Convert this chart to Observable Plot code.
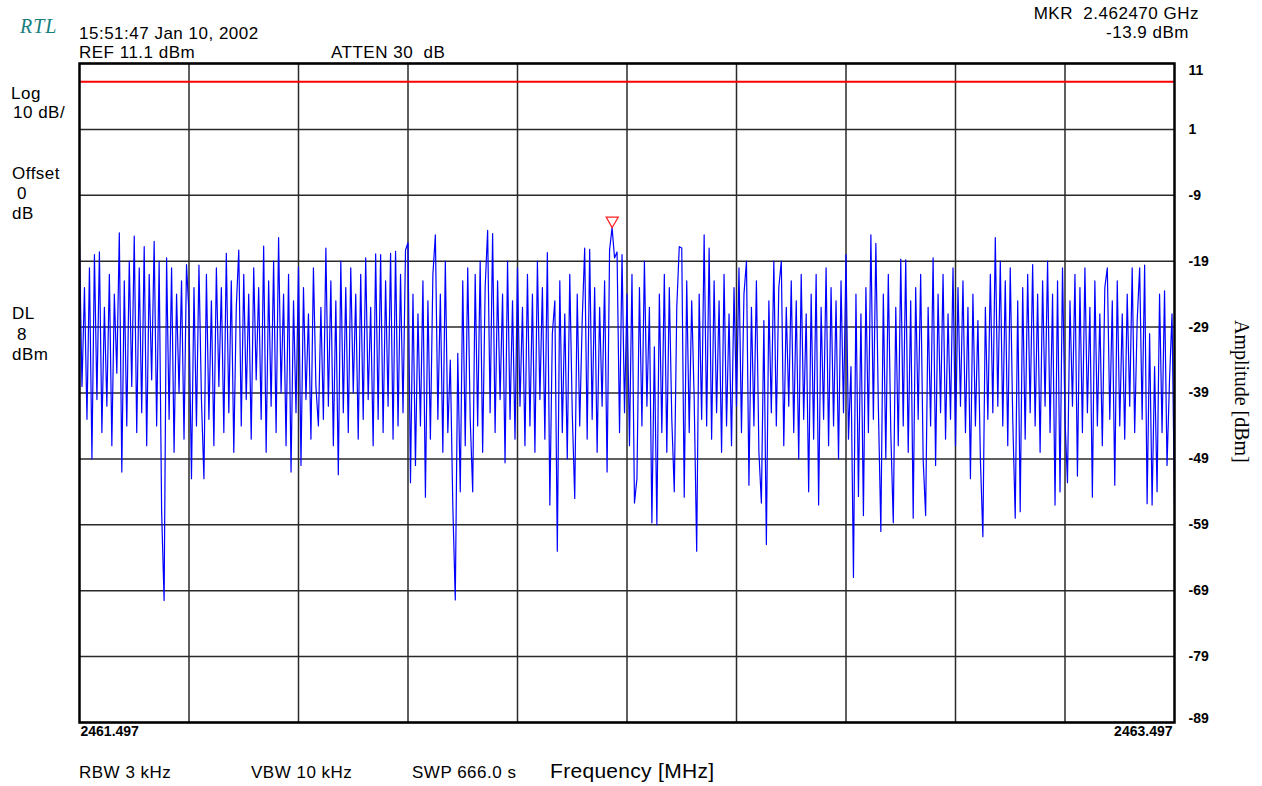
<!DOCTYPE html>
<html>
<head>
<meta charset="utf-8">
<script src="https://cdn.jsdelivr.net/npm/d3@7"></script>
<script src="https://cdn.jsdelivr.net/npm/@observablehq/plot@0.6"></script>
<style>
  html, body { margin: 0; padding: 0; background: #fff; }
  #wrap { position: relative; width: 1262px; height: 786px; overflow: hidden; background: #fff; }
  #wrap svg { position: absolute; left: 0; top: 0; }
  .t { position: absolute; font-family: "Liberation Sans", Arial, sans-serif; font-size: 17px; line-height: 1; color: #000; white-space: pre; letter-spacing: 0.5px; }
</style>
</head>
<body>
<div id="wrap"></div>
<script>
// ---- data ----
const freqStart = 2461.497;   // MHz
const freqStop = 2463.497;    // MHz
const refLevel = 11;          // top of screen, dBm
const bottomLevel = -89;      // dBm
const displayLine = 8;        // DL, dBm
const markerFreq = 2462.470;  // MHz
const markerLevel = -13.9;    // dBm

const yTicks = [11, 1, -9, -19, -29, -39, -49, -59, -69, -79, -89];
const xGrid = [2461.697, 2461.897, 2462.097, 2462.297, 2462.497, 2462.697, 2462.897, 2463.097, 2463.297];
const xLabels = ["2461.497", "2463.497"];

// trace amplitudes (dBm), sweep points
const amplitude = [
  -16.5, -38, -23, -43, -20, -49, -18, -40, -17.6, -45,
  -26, -41, -21, -47, -24, -36, -14.7, -51, -22, -44,
  -19, -38, -15.2, -45, -20, -42, -16.8, -47, -21, -37,
  -16, -44, -19, -57, -70.5, -18.5, -43, -20, -48, -24,
  -39, -22, -46, -19.5, -27, -52, -23, -44, -19.6, -40,
  -52, -21, -43, -25, -47, -20, -38, -23, -45, -17.8,
  -42, -22, -48, -26, -17.3, -44, -21, -40, -24, -46,
  -20, -37, -23, -43, -16.7, -48, -22, -41, -19, -45,
  -15.4, -39, -24, -47, -21, -51, -25, -42, -19.9, -50,
  -23, -40, -27, -46, -20, -38, -44, -26, -43, -17,
  -41, -22, -47, -25, -51.4, -19, -42, -23, -45, -20,
  -39, -24, -46, -21, -43, -18.5, -40, -26, -47, -17.9,
  -43, -18, -45, -22, -41, -17.8, -46, -17.5, -44, -21,
  -42, -17.3, -16.2, -52.6, -24, -50, -27, -44, -22, -54.8,
  -25, -46, -21, -15, -43, -24, -48, -19, -45, -34,
  -56, -70.4, -33, -54, -22, -47, -20, -43, -54, -21,
  -44, -19, -48, -23, -14.3, -42, -14.8, -45, -22, -40,
  -24, -49.6, -19, -43, -25, -46, -20, -41, -26, -47,
  -21, -44, -24, -48, -19, -40, -23, -46, -17.7, -56,
  -30, -25, -63, -22, -45, -27, -49, -21, -42, -55,
  -24, -44, -28, -17, -46, -17.2, -43, -23, -48, -26,
  -41, -22, -51, -17.3, -13.9, -18.5, -17.6, -45, -18, -42,
  -24, -47, -21, -55.7, -52, -23, -44, -19, -41, -26,
  -58.7, -32, -59, -24, -45, -21, -48, -23, -43, -54,
  -26, -16.8, -17, -54.8, -22, -45, -25, -40, -63, -24,
  -43, -15, -44, -17, -46, -22, -42, -25, -48, -21,
  -44, -27, -47, -23, -41, -20, -45, -24, -19, -53,
  -26, -44, -22, -48, -55.7, -28, -62, -25, -42, -19,
  -44, -23, -19, -47, -26, -41, -22, -45, -25, -49,
  -21, -43, -27, -54, -24, -46, -21, -56, -26, -43,
  -20, -47, -23, -44, -25, -49, -22, -42, -18, -46,
  -35, -67, -24, -54.7, -27, -57.6, -23, -45, -15, -43,
  -16.3, -41, -60, -24, -49, -21, -45, -58.7, -26, -47,
  -18.7, -44, -18.8, -48, -25, -58, -23, -43, -21, -49,
  -57.6, -26, -44, -18.5, -50, -24, -42, -21, -46, -27,
  -43, -20, -47, -23, -41, -22, -45, -26, -52, -24,
  -44, -28, -49, -60.8, -26, -43, -21, -42, -15.4, -41,
  -19, -44, -22, -47, -20, -43, -58, -25, -57, -23,
  -46, -21, -42, -19.5, -44, -24, -48, -22, -41, -19,
  -45, -24, -56, -22, -54, -20, -43, -52.6, -25, -41,
  -21, -51.6, -23, -45, -20, -42, -26, -54.8, -22, -44,
  -27, -47, -23, -20, -43, -25, -53, -22, -44, -27,
  -46, -24, -41, -20, -45, -28, -20, -43, -19.6, -55.8,
  -30, -56, -35, -54, -24, -45, -23.5, -50, -37, -27,
  -56
];

const step = (freqStop - freqStart) / (amplitude.length - 1);
const trace = amplitude.map((v, i) => ({f: freqStart + i * step, v}));
const marker = [{f: markerFreq, v: markerLevel}];
const fmtY = d => String(d);

const plot = Plot.plot({
  width: 1262,
  height: 786,
  marginTop: 63,
  marginBottom: 64,
  marginLeft: 79,
  marginRight: 88,
  x: {domain: [freqStart, freqStop], axis: null},
  y: {domain: [bottomLevel, refLevel], axis: null},
  style: {background: "white", fontFamily: "Liberation Sans, Arial, sans-serif", color: "black", overflow: "visible"},
  marks: [
    Plot.gridX(xGrid, {stroke: "#2a2a2a", strokeOpacity: 1, strokeWidth: 1.5}),
    Plot.gridY(yTicks, {stroke: "#2a2a2a", strokeOpacity: 1, strokeWidth: 1.5}),
    Plot.ruleY([displayLine], {stroke: "#ff0000", strokeWidth: 2.2, dy: -1.5}),
    Plot.line(trace, {x: "f", y: "v", stroke: "#0000ff", strokeWidth: 1.2}),
    Plot.frame({stroke: "black", strokeWidth: 2.5}),
    Plot.dot(marker, {x: "f", y: "v", symbol: "triangle", rotate: 180, r: 4.5, dy: -7, stroke: "#ff2020", fill: "white", strokeWidth: 1.2}),
    Plot.axisY(yTicks.filter(t => t !== 11 && t !== -89), {anchor: "right", tickSize: 0, tickPadding: 14, fontSize: 14, fontWeight: "bold", label: null, tickFormat: fmtY}),
    Plot.axisY([11], {anchor: "right", tickSize: 0, tickPadding: 14, fontSize: 14, fontWeight: "bold", dy: 7, label: null, tickFormat: fmtY}),
    Plot.axisY([-89], {anchor: "right", tickSize: 0, tickPadding: 14, fontSize: 14, fontWeight: "bold", dy: -4, label: null, tickFormat: fmtY}),
    Plot.axisX([freqStart], {anchor: "bottom", tickSize: 0, tickPadding: 4, fontSize: 14, fontWeight: "bold", textAnchor: "start", dx: 1, label: null, tickFormat: () => xLabels[0]}),
    Plot.axisX([freqStop], {anchor: "bottom", tickSize: 0, tickPadding: 4, fontSize: 14, fontWeight: "bold", textAnchor: "end", dx: -2, label: null, tickFormat: () => xLabels[1]})
  ]
});

const wrap = document.getElementById("wrap");
wrap.appendChild(plot);

const labels = [
  {s: "15:51:47 Jan 10, 2002", x: 79, y: 24.7},
  {s: "REF 11.1 dBm", x: 79, y: 43.7},
  {s: "ATTEN 30  dB", x: 331, y: 43.7},
  {s: "Log", x: 11, y: 84.7},
  {s: "10 dB/", x: 13, y: 103.7},
  {s: "Offset", x: 12, y: 164.7},
  {s: "0", x: 17, y: 184.7},
  {s: "dB", x: 12, y: 204.7},
  {s: "DL", x: 12, y: 304.7},
  {s: "8", x: 17, y: 325.7},
  {s: "dBm", x: 12, y: 345.7},
  {s: "RBW 3 kHz", x: 79, y: 763.7},
  {s: "VBW 10 kHz", x: 251, y: 763.7},
  {s: "SWP 666.0 s", x: 412, y: 763.7}
];
for (const l of labels) {
  const d = document.createElement("div");
  d.className = "t";
  d.textContent = l.s;
  d.style.left = l.x + "px";
  d.style.top = l.y + "px";
  wrap.appendChild(d);
}
const rights = [
  {s: "MKR  2.462470 GHz", r: 1199, y: 4.7},
  {s: "-13.9 dBm", r: 1189, y: 23.7}
];
for (const l of rights) {
  const d = document.createElement("div");
  d.className = "t";
  d.textContent = l.s;
  d.style.right = (1262 - l.r) + "px";
  d.style.top = l.y + "px";
  wrap.appendChild(d);
}
// Frequency label
const fl = document.createElement("div");
fl.className = "t";
fl.textContent = "Frequency [MHz]";
fl.style.cssText += "left:550px;top:760px;font-size:21px;letter-spacing:0.3px;";
wrap.appendChild(fl);
// RTL logo
const rtl = document.createElement("div");
rtl.className = "t";
rtl.textContent = "RTL";
rtl.style.cssText += "left:20px;top:16px;font-family:'Liberation Serif',serif;font-style:italic;font-size:20px;color:#17807f;letter-spacing:1px;";
wrap.appendChild(rtl);
// Amplitude label (rotated)
const al = document.createElement("div");
al.className = "t";
al.textContent = "Amplitude [dBm]";
al.style.cssText += "left:1232px;top:320px;font-family:'Liberation Serif',serif;font-size:20px;line-height:20px;writing-mode:vertical-rl;letter-spacing:0;";
wrap.appendChild(al);
</script>
</body>
</html>
